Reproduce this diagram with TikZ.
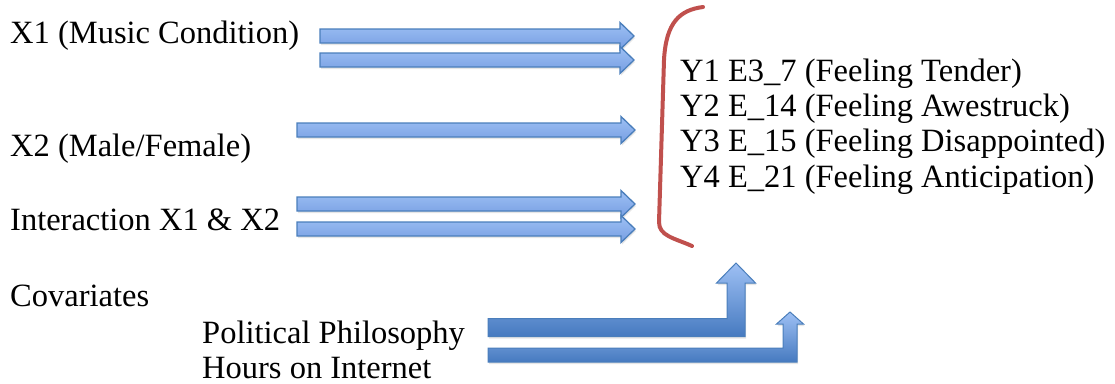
\documentclass[tikz,border=0pt]{standalone}
\usepackage{fontspec}
\setmainfont{Liberation Serif}
\usetikzlibrary{calc,positioning,shadows}

\definecolor{arrowline}{RGB}{74,126,187}
\definecolor{arrowlight}{RGB}{158,192,244}
\definecolor{arrowmid}{RGB}{118,158,226}
\definecolor{arrowdark}{RGB}{70,122,192}
\definecolor{bracketred}{RGB}{192,80,77}

% horizontal block arrow: start, tip
\newcommand{\hblock}[2]{%
  \draw[blockarrow] ($(#1)+(0,-7)$) -- ($(#2)+(-14,-7)$) -- ($(#2)+(-14,-13.5)$) -- (#2)
    -- ($(#2)+(-14,13.5)$) -- ($(#2)+(-14,7)$) -- ($(#1)+(0,7)$) -- cycle;}
% bent block arrow: start, tip, half shaft, half head, head length
\newcommand{\bentblock}[5]{%
  \draw[bentarrow] ($(#1)+(0,-#3)$) -- ($(#1 -| #2)+(-#3,-#3)$) -- ($(#2)+(-#3,#5)$)
    -- ($(#2)+(-#4,#5)$) -- (#2) -- ($(#2)+(#4,#5)$) -- ($(#2)+(#3,#5)$)
    -- ($(#1 -| #2)+(#3,#3)$) -- ($(#1)+(0,#3)$) -- cycle;}

\begin{document}
\begin{tikzpicture}[x=1pt,y=-1pt,
    lbl/.style={anchor=base west, inner sep=0pt, font=\fontsize{32.5}{39}\selectfont},
    blockarrow/.style={draw=arrowline, line width=1.3pt, line join=miter,
      top color=arrowlight, bottom color=arrowmid,
      drop shadow={opacity=0.2, shadow xshift=1pt, shadow yshift=-2pt}},
    bentarrow/.style={draw=arrowline, line width=1pt, line join=miter,
      top color=arrowlight, bottom color=arrowdark,
      drop shadow={opacity=0.2, shadow xshift=1pt, shadow yshift=-2pt}}]
  \useasboundingbox (0,0) rectangle (1115,383);

  % predictors
  \node[lbl] (x1) at (10,43) {X1 (Music Condition)};
  \node[lbl] (x2) at (10,156) {X2 (Male/Female)};
  \node[lbl] (inter) at (10,230) {Interaction X1 \& X2};
  \node[lbl] (cov) at (10,306) {Covariates};
  \node[lbl] (pol) at (202,343) {Political Philosophy};
  \node[lbl] (hours) at (202,378) {Hours on Internet};

  % outcomes
  \node[lbl] (y1) at (680,81) {Y1 E3\_7 (Feeling Tender)};
  \node[lbl] (y2) at (680,116) {Y2 E\_14 (Feeling Awestruck)};
  \node[lbl] (y3) at (680,151) {Y3 E\_15 (Feeling Disappointed)};
  \node[lbl] (y4) at (680,187) {Y4 E\_21 (Feeling Anticipation)};

  % arrow ends
  \coordinate (a1s) at (320,36);  \coordinate (a1e) at (634,36);
  \coordinate (a2s) at (320,60);  \coordinate (a2e) at (634,60);
  \coordinate (a3s) at (297,130); \coordinate (a3e) at (635,130);
  \coordinate (a4s) at (297,204); \coordinate (a4e) at (635,204);
  \coordinate (a5s) at (297,229); \coordinate (a5e) at (635,229);
  \coordinate (b1s) at (488,327.5); \coordinate (b1e) at (736,263);
  \coordinate (b2s) at (488,355);   \coordinate (b2e) at (790,312);

  \hblock{a1s}{a1e}
  \hblock{a2s}{a2e}
  \hblock{a3s}{a3e}
  \hblock{a4s}{a4e}
  \hblock{a5s}{a5e}
  \bentblock{b1s}{b1e}{9}{19.5}{20}
  \bentblock{b2s}{b2e}{7}{13.5}{12}

  % bracket
  \coordinate (brtop) at (703,7);
  \coordinate (brbot) at (692,246);
  \draw[bracketred, line width=4pt, line cap=round] (brtop)
    .. controls (680,10) and (666,22) .. (664,60) -- (659,222)
    .. controls (659,236) and (674,238) .. (brbot);
\end{tikzpicture}
\end{document}
